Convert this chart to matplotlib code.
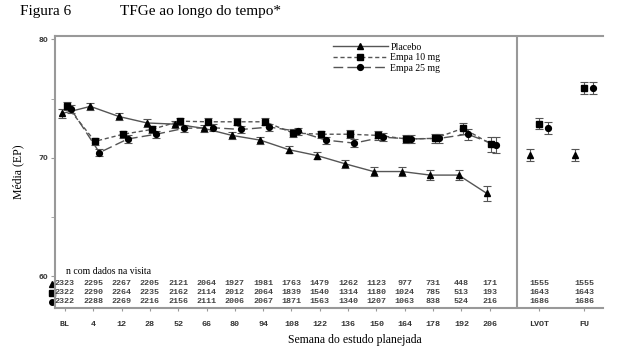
import matplotlib
matplotlib.use("Agg")
import matplotlib.pyplot as plt
from matplotlib.lines import Line2D
from matplotlib.transforms import blended_transform_factory

# visit labels
weeks = ["BL", "4", "12", "28", "52", "66", "80", "94", "108", "122",
         "136", "150", "164", "178", "192", "206"]
extra = ["LVOT", "FU"]

# mean eGFR
placebo = [73.75, 74.35, 73.5, 72.95, 72.85, 72.5, 71.9, 71.5, 70.7, 70.2,
           69.5, 68.85, 68.85, 68.55, 68.55, 67.0]
empa10 = [74.4, 71.4, 72.0, 72.4, 73.1, 73.05, 73.05, 73.05, 72.1, 72.0,
          72.0, 71.9, 71.6, 71.65, 72.5, 71.15]
empa25 = [74.1, 70.45, 71.6, 72.0, 72.5, 72.55, 72.4, 72.6, 72.25, 71.5,
          71.25, 71.75, 71.6, 71.65, 72.0, 71.1]
err = [0.35, 0.3, 0.3, 0.3, 0.3, 0.3, 0.3, 0.3, 0.3, 0.3,
       0.33, 0.35, 0.35, 0.4, 0.45, 0.65]

placebo_x = [70.25, 70.25]
empa10_x = [72.9, 75.9]
empa25_x = [72.55, 75.9]
err_x = [0.5, 0.5]

# n with data at visit
n_placebo = [2323, 2295, 2267, 2205, 2121, 2064, 1927, 1981, 1763, 1479,
             1262, 1123, 977, 731, 448, 171, 1555, 1555]
n_empa10 = [2322, 2290, 2264, 2235, 2162, 2114, 2012, 2064, 1839, 1540,
            1314, 1180, 1024, 785, 513, 193, 1643, 1643]
n_empa25 = [2322, 2288, 2269, 2216, 2156, 2111, 2006, 2067, 1871, 1563,
            1340, 1207, 1063, 838, 524, 216, 1686, 1686]

serif = "Liberation Serif"
mono = "Liberation Mono"

fig = plt.figure(figsize=(6.2, 3.52), dpi=100)
ax = fig.add_axes([0.0887, 0.125, 0.8839, 0.773])

xs = list(range(len(weeks)))
xe = [16.75, 18.34]
ecol = "#555555"

series = [
    (placebo, placebo_x, "^", "-", None, -0.1, -0.32, "Placebo"),
    (empa10, empa10_x, "s", "--", (3, 2), 0.06, 0.0, "Empa 10 mg"),
    (empa25, empa25_x, "o", "--", (7, 3), 0.22, 0.31, "Empa 25 mg"),
]
handles = []
labels = []
for vals, vals_x, mk, ls, dash, off, off_x, lab in series:
    px = [x + off for x in xs]
    line, = ax.plot(px, vals, color="#555555", lw=1.0, ls=ls, zorder=2)
    if dash:
        line.set_dashes(dash)
    ax.errorbar(px, vals, yerr=err, fmt=mk, color="black", ms=4.2,
                ecolor=ecol, elinewidth=0.8, capsize=3, capthick=0.8, zorder=3)
    ax.errorbar([x + off_x for x in xe], vals_x, yerr=err_x, fmt=mk,
                color="black", ms=4.2, ecolor=ecol, elinewidth=0.8,
                capsize=3, capthick=0.8, zorder=3)
    h = Line2D([], [], color="#555555", lw=1.0, ls=ls, marker=mk,
               markerfacecolor="black", markeredgecolor="black", ms=4.2)
    if dash:
        h.set_dashes(dash)
    handles.append(h)
    labels.append(lab)

ax.legend(handles, labels, loc="upper left", bbox_to_anchor=(0.495, 1.0),
          frameon=False, handlelength=5.6, handletextpad=0.3,
          labelspacing=0.15, borderpad=0.2, prop={"family": serif, "size": 7})

ax.axvline(15.97, color="#999999", lw=1.5)

ax.set_xlim(-0.35, 19.0)
ax.set_ylim(57.33, 80.3)
ax.set_xticks(xs + xe)
ax.set_xticklabels(weeks + extra, fontfamily=mono, fontsize=6,
                   fontweight="bold", color="#333333")
ax.set_yticks([60, 70, 80])
ax.set_yticks([65, 75], minor=True)
ax.set_yticklabels(["60", "70", "80"], fontsize=5, fontweight="bold",
                   color="#444444")
ax.tick_params(axis="x", length=2, color="#999999", pad=7)
ax.tick_params(axis="y", which="both", length=3, color="#999999", pad=2)

for s in ["left", "bottom", "top"]:
    ax.spines[s].set_color("#999999")
    ax.spines[s].set_linewidth(1.5)
ax.spines["right"].set_visible(False)

# table of n with data
ax.text(0.05, 60.37, "n com dados na visita", fontfamily=serif, fontsize=7,
        va="center", ha="left")
rows = [(n_placebo, 59.36, "^"), (n_empa10, 58.6, "s"), (n_empa25, 57.84, "o")]
trans = blended_transform_factory(ax.transAxes, ax.transData)
for nums, yv, mk in rows:
    for x, n in zip(xs + xe, nums):
        ax.text(x, yv, str(n), fontfamily=mono, fontsize=6, fontweight="bold",
                color="#444444", ha="center", va="center")
    ax.plot([-0.006], [yv], marker=mk, color="black", ms=4,
            transform=trans, clip_on=False)

ax.set_ylabel("Média (EP)", fontfamily=serif, fontsize=8.5, labelpad=10)
fig.text(0.573, 0.034, "Semana do estudo planejada", fontfamily=serif,
         fontsize=8.5, ha="center", va="center")
fig.text(0.032, 0.966, "Figura 6", fontfamily=serif, fontsize=11,
         ha="left", va="center")
fig.text(0.194, 0.966, "TFGe ao longo do tempo*", fontfamily=serif,
         fontsize=11, ha="left", va="center")

fig.savefig("out.png", dpi=100)
